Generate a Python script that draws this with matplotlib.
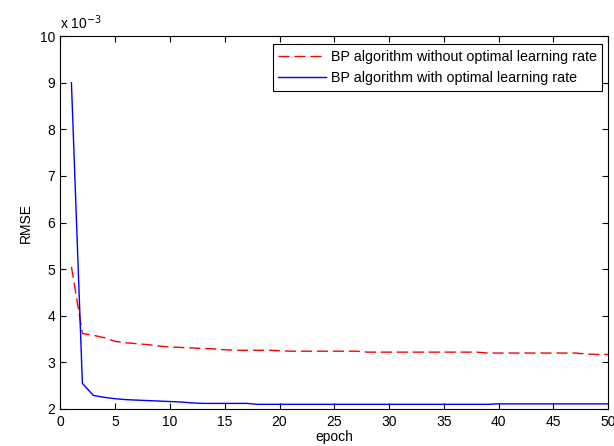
import matplotlib
matplotlib.use("Agg")
import matplotlib.pyplot as plt
import numpy as np

plt.rcParams['font.family'] = ['Liberation Sans', 'DejaVu Sans']

# RMSE values in units of 1e-3
epochs = list(range(1, 51))
rmse_without = [5.05, 3.62, 3.58, 3.53, 3.45, 3.42, 3.40, 3.38, 3.35, 3.33,
                3.32, 3.31, 3.30, 3.29, 3.27, 3.26, 3.26, 3.26, 3.26, 3.25,
                3.24, 3.24, 3.24, 3.24, 3.24, 3.24, 3.24, 3.22, 3.22, 3.22,
                3.22, 3.22, 3.22, 3.22, 3.22, 3.22, 3.22, 3.22, 3.20, 3.20,
                3.20, 3.20, 3.20, 3.20, 3.20, 3.20, 3.20, 3.18, 3.17, 3.17]
rmse_with = [9.00, 2.55, 2.29, 2.25, 2.22, 2.20, 2.19, 2.18, 2.17, 2.16,
             2.15, 2.13, 2.12, 2.12, 2.12, 2.12, 2.12, 2.10, 2.10, 2.10,
             2.10, 2.10, 2.10, 2.10, 2.10, 2.10, 2.10, 2.10, 2.10, 2.10,
             2.10, 2.10, 2.10, 2.10, 2.10, 2.10, 2.10, 2.10, 2.10, 2.11,
             2.11, 2.11, 2.11, 2.11, 2.11, 2.11, 2.11, 2.11, 2.11, 2.11]
label_without = "BP algorithm without optimal learning rate"
label_with = "BP algorithm with optimal learning rate"
x_ticks = [0, 5, 10, 15, 20, 25, 30, 35, 40, 45, 50]
y_ticks = [2, 3, 4, 5, 6, 7, 8, 9, 10]

fig = plt.figure(figsize=(6.14, 4.46), dpi=100)
ax = fig.add_axes([0.0985, 0.083, 0.892, 0.836])

ax.plot(epochs, rmse_without, color='#ff0000', linestyle=(0, (8, 3.5)), linewidth=1.0, label=label_without)
ax.plot(epochs, rmse_with, color='#0000ff', linestyle='-', linewidth=1.0, label=label_with)

ax.set_xlim(0, 50)
ax.set_ylim(2, 10)
ax.set_xticks(x_ticks)
ax.set_yticks(y_ticks)
ax.tick_params(direction='in', top=True, right=True, length=4, width=0.8, labelsize=10, pad=4)
for s in ax.spines.values():
    s.set_linewidth(0.8)

ax.set_xlabel("epoch", fontsize=10, labelpad=1)
ax.set_ylabel("RMSE", fontsize=10, labelpad=5)
ax.text(0.0, 1.012, r"x 10$^{-3}$", transform=ax.transAxes, fontsize=10, ha='left', va='bottom')

leg = ax.legend(loc='upper right', bbox_to_anchor=(0.9895, 0.979), fontsize=10.3,
                frameon=True, fancybox=False, framealpha=1, edgecolor='black',
                handlelength=3.3, handletextpad=0.35, borderpad=0.4, labelspacing=0.5,
                borderaxespad=0)
leg.get_frame().set_linewidth(0.8)

fig.savefig("out.png", dpi=100)
